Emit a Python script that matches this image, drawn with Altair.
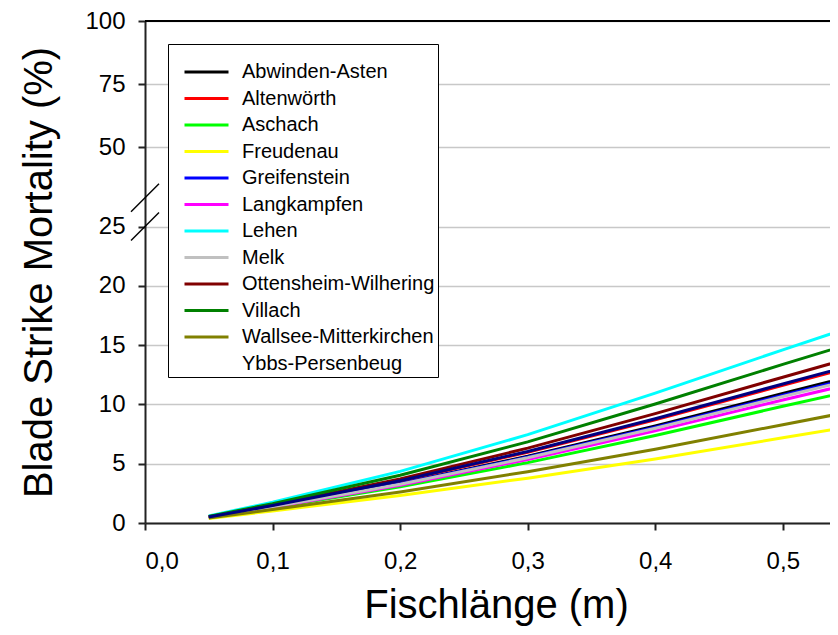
import altair as alt
import pandas as pd

# Fish length (m) at which the curves were read
x_vals = [0.05, 0.1, 0.2, 0.3, 0.4, 0.5, 0.55]

names = ["Abwinden-Asten", "Altenwörth", "Aschach", "Freudenau", "Greifenstein",
         "Langkampfen", "Lehen", "Melk", "Ottensheim-Wilhering", "Villach",
         "Wallsee-Mitterkirchen", "Ybbs-Persenbeug"]
colors = ["#000000", "#ff0000", "#00ff00", "#ffff00", "#0000ff", "#ff00ff",
          "#00ffff", "#c0c0c0", "#800000", "#008000", "#808000", "#000080"]

abwinden = [0.49, 1.39, 3.34, 5.63, 8.19, 10.92, 12.27]
altenwoerth = [0.51, 1.46, 3.53, 5.97, 8.71, 11.61, 13.04]
aschach = [0.46, 1.28, 3.05, 5.09, 7.38, 9.84, 11.05]
freudenau = [0.38, 1.02, 2.32, 3.78, 5.39, 7.18, 8.07]
greifenstein = [0.49, 1.38, 3.31, 5.56, 8.08, 10.77, 12.10]
langkampfen = [0.47, 1.33, 3.19, 5.36, 7.77, 10.37, 11.64]
lehen = [0.60, 1.75, 4.35, 7.45, 10.95, 14.60, 16.40]
melk = [0.48, 1.36, 3.27, 5.50, 7.99, 10.66, 11.97]
ottensheim = [0.53, 1.52, 3.72, 6.31, 9.22, 12.29, 13.81]
villach = [0.56, 1.63, 4.02, 6.84, 10.03, 13.37, 15.02]
wallsee = [0.41, 1.13, 2.62, 4.33, 6.22, 8.29, 9.32]
ybbs = [0.51, 1.47, 3.56, 6.03, 8.79, 11.72, 13.17]

series = [abwinden, altenwoerth, aschach, freudenau, greifenstein, langkampfen,
          lehen, melk, ottensheim, villach, wallsee, ybbs]

# axis break markers on the y axis (data units)
break_x = [0.0, 0.0]
break_y = [25, 30]

y_ticks = [0, 5, 10, 15, 20, 25, 50, 75, 100]
x_ticks = [0.0, 0.1, 0.2, 0.3, 0.4, 0.5]
y_top = [100]

rows = []
for n, vals in zip(names, series):
    for xv, yv in zip(x_vals, vals):
        rows.append({"name": n, "x": xv, "y": yv})
df = pd.DataFrame(rows)
brk = pd.DataFrame({"x": break_x, "y": break_y})
top = pd.DataFrame({"y": y_top})

FONT = "Liberation Sans"
H = 502
W = 685
y_scale = alt.Scale(domain=[0, 25, 30, 100], range=[H, 205.5, 176.8, 0], nice=False, zero=False)
x_scale = alt.Scale(domain=[0, 0.537], nice=False, zero=False)

x_axis = alt.Axis(values=x_ticks, labelExpr="replace(format(datum.value, '.1f'), '.', ',')",
                  title="Fischlänge (m)", grid=False, tickSize=7, tickColor="#222",
                  domainColor="#222", domainWidth=2, tickWidth=2,
                  labelFontSize=24, labelFont=FONT, labelColor="black", labelPadding=19,
                  titleFontSize=40, titleFont=FONT, titleFontWeight="normal",
                  titleColor="black", titlePadding=12, titleX=351)
y_axis = alt.Axis(values=y_ticks, title="Blade Strike Mortality (%)", grid=True,
                  gridColor="#c8c8c8", gridWidth=1.5, tickSize=7, tickColor="#222",
                  domainColor="#222", domainWidth=2, tickWidth=2,
                  labelFontSize=24, labelFont=FONT, labelColor="black", labelPadding=13,
                  titleFontSize=40, titleFont=FONT, titleFontWeight="normal",
                  titleColor="black", titlePadding=25)

legend = alt.Legend(orient="none", legendX=23, legendY=23, title=" ",
                    titleFontSize=10, titlePadding=6,
                    symbolType="stroke", symbolSize=1936, symbolStrokeWidth=3,
                    symbolOffset=12,
                    labelFontSize=20, labelFont=FONT, labelColor="black", labelLimit=400,
                    labelOffset=12, clipHeight=18, rowPadding=6.5,
                    strokeColor="black", fillColor="white", padding=3,
                    values=names,
                    symbolOpacity={"expr": "datum.value === 'Ybbs-Persenbeug' ? 0 : 1"})

lines = alt.Chart(df).mark_line(strokeWidth=3, clip=True).encode(
    x=alt.X("x:Q", scale=x_scale, axis=x_axis),
    y=alt.Y("y:Q", scale=y_scale, axis=y_axis),
    color=alt.Color("name:N", scale=alt.Scale(domain=names, range=colors), legend=legend),
)

top_rule = alt.Chart(top).mark_rule(color="black", strokeWidth=2).encode(
    y=alt.Y("y:Q", scale=y_scale),
)

breaks = alt.Chart(brk).mark_point(shape="M-1,1L1,-1", size=784, stroke="black",
                                   strokeWidth=1.5, filled=False, opacity=1).encode(
    x=alt.X("x:Q", scale=x_scale),
    y=alt.Y("y:Q", scale=y_scale),
)

chart = alt.layer(lines, top_rule, breaks).properties(
    width=W, height=H,
    autosize=alt.AutoSizeParams(type="none"),
    padding={"left": 137, "top": 13, "right": 0, "bottom": 104},
).configure_view(stroke="transparent")

chart.save("out.html", embed_options={"renderer": "svg", "actions": False})
